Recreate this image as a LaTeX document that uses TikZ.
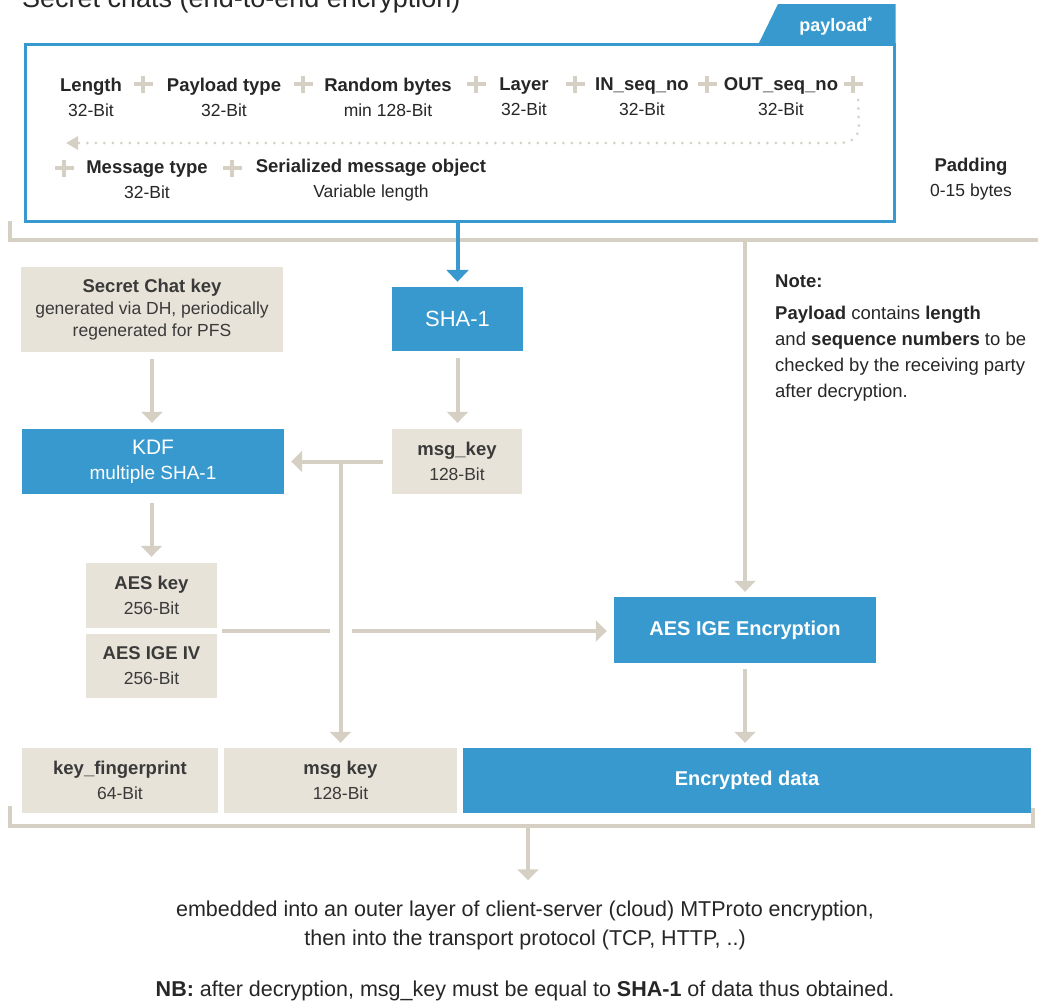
\documentclass[tikz,border=0pt]{standalone}
\usepackage{fontspec}
\setmainfont{Liberation Sans}
\usetikzlibrary{arrows.meta,positioning,calc}

\definecolor{tgblue}{HTML}{3899CE}
\definecolor{tgbeige}{HTML}{E8E3D8}
\definecolor{tgline}{HTML}{D6D0C4}
\definecolor{tgtext}{HTML}{262626}
\definecolor{tgboxtext}{HTML}{3A3A3A}

\newcommand\fname[1]{{\fontsize{18.5}{25}\selectfont\bfseries #1}}

\tikzset{
  bluebox/.style={fill=tgblue, text=white, align=center, inner sep=0pt, font=\fontsize{19}{25}\selectfont},
  beigebox/.style={fill=tgbeige, text=tgboxtext, align=center, inner sep=0pt, font=\fontsize{17.5}{25}\selectfont},
  field/.style={align=center, text=tgtext, inner sep=0pt, font=\fontsize{17.5}{25}\selectfont},
  flow/.style={tgline, line width=4pt, -{Triangle[width=21pt,length=11pt]}},
  bar/.style={tgline, line width=4pt},
  dotline/.style={tgline, line width=3pt, line cap=round, dash pattern=on 0pt off 8.5pt},
  plussign/.pic={\draw[bar] (-9.5,0) -- (9.5,0) (0,-8.5) -- (0,8.5);}
}

\begin{document}
\begin{tikzpicture}[x=1pt, y=-1pt]
\useasboundingbox (0,0) rectangle (1038,1005);

\node[anchor=base west, inner sep=0pt, text=tgtext, font=\fontsize{27}{27}\selectfont] (title) at (22,7) {Secret chats (end-to-end encryption)};

% payload frame with its tab
\node[draw=tgblue, line width=3pt, minimum width=869pt, minimum height=177pt, inner sep=0pt] (payload) at (459.5,132.5) {};
\fill[tgblue] (758,45) -- (778,4) -- (895.5,4) -- (895.5,45) -- cycle;
\node[text=white, inner sep=0pt, font=\fontsize{18}{18}\selectfont\bfseries] (tablabel) at (836,26) {payload\textsuperscript{*}};

% fields of the payload
\foreach \x/\n/\b [count=\i] in {91/Length/32-Bit, 224/Payload type/32-Bit, 388/Random bytes/min 128-Bit,
    524/Layer/32-Bit, 642/IN\_seq\_no/32-Bit, 781/OUT\_seq\_no/32-Bit}
  \node[field] (f\i) at (\x,97) {\fname{\n}\\\b};
\foreach \x in {143,303,476,575,707,853}
  \pic at (\x,84) {plussign};
\draw[dotline, -{Triangle[width=13pt,length=12pt]}] (858,100) -- (859,124) .. controls (859,138) and (852,143) .. (838,143) -- (66,143);
\pic at (64,168) {plussign};
\pic at (232,168) {plussign};
\node[field] (f7) at (147,180) {\fname{Message type}\\32-Bit};
\node[field] (f8) at (371,180) {\fname{Serialized message object}\\Variable length};
\node[field] (pad) at (971,179) {\fname{Padding}\\0-15 bytes};

\draw[bar] (10,221) -- (10,240) -- (1040,240);
\coordinate (topbar) at (747,240);

% key derivation
\node[beigebox, minimum width=262pt, minimum height=85pt] (chatkey) at (152,309.5)
  {\fname{Secret Chat key}\\[-3pt] generated via DH, periodically\\[-3pt] regenerated for PFS};
\node[bluebox, minimum width=262pt, minimum height=65pt] (kdf) at (153,461.5)
  {{\fontsize{21}{25}\selectfont KDF}\\multiple SHA-1};
\node[bluebox, minimum width=131pt, minimum height=64pt, font=\fontsize{22}{25}\selectfont] (sha) at (457.5,319) {SHA-1};
\node[beigebox, minimum width=130pt, minimum height=65pt] (msgkey) at (457,461.5) {\fname{msg\_key}\\128-Bit};
\node[beigebox, minimum width=131pt, minimum height=65pt] (aeskey) at (151.5,595.5) {\fname{AES key}\\256-Bit};
\node[beigebox, minimum width=131pt, minimum height=64pt] (aesiv) at (151.5,666) {\fname{AES IGE IV}\\256-Bit};
\node[bluebox, minimum width=262pt, minimum height=66pt, font=\fontsize{20}{25}\selectfont\bfseries] (aesige) at (745,630) {AES IGE Encryption};

% outgoing message
\node[beigebox, minimum width=196pt, minimum height=65pt] (keyfp) at (120,780.5) {\fname{key\_fingerprint}\\64-Bit};
\node[beigebox, minimum width=233pt, minimum height=65pt] (msgkeyout) at (340.5,780.5) {\fname{msg key}\\128-Bit};
\node[bluebox, minimum width=568pt, minimum height=65pt, font=\fontsize{20}{25}\selectfont\bfseries] (encdata) at (747,780.5) {Encrypted data};

\node[anchor=north west, align=left, inner sep=0pt, text=tgtext, font=\fontsize{18.5}{26}\selectfont] (note) at (775,275)
  {\textbf{Note:}\\[6pt] \textbf{Payload} contains \textbf{length}\\ and \textbf{sequence numbers} to be\\ checked by the receiving party\\ after decryption.};

\draw[tgblue, line width=4pt, -{Triangle[width=22pt,length=12pt]}, shorten >=5pt] (sha.north |- payload.south) -- (sha.north);
\draw[flow, shorten <=7pt, shorten >=6pt] (chatkey.south) -- (chatkey.south |- kdf.north);
\draw[flow, shorten <=9pt, shorten >=6pt] (aeskey.north |- kdf.south) -- (aeskey.north);
\draw[flow, shorten <=7pt, shorten >=6pt] (sha.south) -- (sha.south |- msgkey.north);
\draw[flow, shorten <=9pt, shorten >=7pt] (msgkey.west) -- (kdf.east);
\coordinate (split) at (msgkeyout.north |- msgkey.west);
\draw[flow, shorten >=5pt] (split) -- (msgkeyout.north);
\coordinate (aesjoin) at ($(aeskey.south east)!0.5!(aesiv.north east)$);
\draw[bar, shorten <=5pt] (aesjoin) -- ($(split |- aesjoin)+(-11,0)$);
\draw[flow, shorten >=7pt] ($(split |- aesjoin)+(11,0)$) -- (aesige.west |- aesjoin);
\draw[flow, shorten >=5pt] (aesige.north |- topbar) -- (aesige.north);
\draw[flow, shorten <=6pt, shorten >=5pt] (aesige.south) -- (aesige.south |- encdata.north);

\draw[bar] (10,806) -- (10,826) -- (1033,826) -- (1033,808);
\coordinate (outlet) at (528,826);

\node[align=center, inner sep=0pt, text=tgtext, font=\fontsize{21.5}{29}\selectfont] (embed) at (525,925)
  {embedded into an outer layer of client-server (cloud) MTProto encryption,\\ then into the transport protocol (TCP, HTTP, ..)};
\draw[flow] (outlet) -- ($(outlet |- embed.north)+(0,-20)$);
\node[inner sep=0pt, text=tgtext, font=\fontsize{21.5}{29}\selectfont] (nb) at (525,991)
  {\textbf{NB:} after decryption, msg\_key must be equal to \textbf{SHA-1} of data thus obtained.};
\end{tikzpicture}
\end{document}
